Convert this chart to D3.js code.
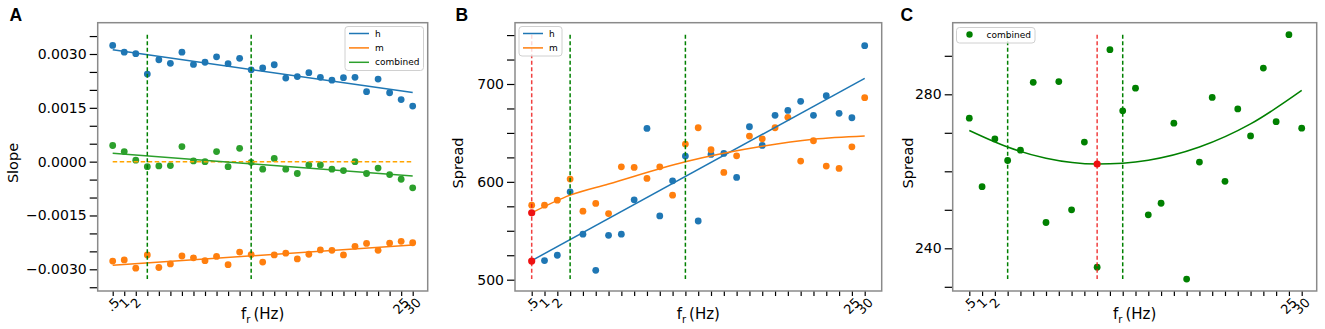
<!DOCTYPE html>
<html><head><meta charset="utf-8">
<script src="https://cdn.jsdelivr.net/npm/d3@7/dist/d3.min.js"></script>
<style>
html,body{margin:0;padding:0;background:#fff;}
svg{display:block;font-family:"DejaVu Sans",sans-serif;}
</style></head>
<body>
<svg id="chart" width="1325" height="329"></svg>
<script>
// ---------- data ----------
const xTickLabels = [".5","1","2","","","","","","","","","","","","","","","","","","","","","","","25","30"];
const xPositions = xTickLabels.map((d, i) => i);

// Panel A: slopes
const slopeH = [0.00324,0.00305,0.00301,0.00244,0.00284,0.00274,0.00305,0.00271,0.00277,0.00292,0.00273,0.00288,0.00256,0.00261,0.00270,0.00233,0.00237,0.00248,0.00235,0.00227,0.00234,0.00235,0.00195,0.00230,0.00192,0.00173,0.00155];
const slopeM = [-0.00277,-0.00274,-0.00297,-0.00260,-0.00295,-0.00285,-0.00263,-0.00268,-0.00276,-0.00264,-0.00287,-0.00252,-0.00259,-0.00280,-0.00260,-0.00255,-0.00271,-0.00258,-0.00246,-0.00247,-0.00260,-0.00236,-0.00228,-0.00247,-0.00227,-0.00222,-0.00226];
const slopeC = [0.00045,0.00028,0.00004,-0.00014,-0.00012,-0.00011,0.00042,0.00002,0.00000,0.00028,-0.00014,0.00037,-0.00002,-0.00021,0.00009,-0.00021,-0.00033,-0.00009,-0.00009,-0.00021,-0.00025,0.00000,-0.00033,-0.00018,-0.00036,-0.00049,-0.00073];
const slopeFitPos = [0, 26];
const slopeFitH = [0.003116, 0.001926];
const slopeFitM = [-0.002884, -0.002326];
const slopeFitC = [0.000233, -0.000400];
const slopeTicks = [-0.0035,-0.003,-0.0025,-0.002,-0.0015,-0.001,-0.0005,0,0.0005,0.001,0.0015,0.002,0.0025,0.003,0.0035];
const slopeTickLabels = [-0.003,-0.0015,0,0.0015,0.003];

// Panel B: spread h / m
const spreadH = [null,519.5,525,589.8,546.5,509.6,545.4,546.5,581.6,654.6,565.2,601,626.3,560,628,629,604.5,656.3,637.2,668,673,682.3,668,688,670,665.5,739.2];
const spreadM = [576.2,576.2,581.3,602.8,570,577.9,567.6,615.4,614.7,603.5,615.4,586.4,638.6,655.3,632.8,609.6,626.6,646.8,644,655.3,665.9,621.2,642,616.1,613.7,635.8,686];
const spreadFitHPos = [0, 26];
const spreadFitH = [519.5, 705.8];
const spreadFitMPos = [0, 3, 6, 12, 18, 22, 26];
const spreadFitM = [568.3, 586.4, 597.8, 620.5, 636.3, 643.5, 646.8];
const spreadRedPos = [0, 0];
const spreadRedVal = [519.0, 568.3];
const spreadTicks = [500,525,550,575,600,625,650,675,700,725,750];
const spreadTickLabels = [500,600,700];

// Panel C: spread combined
const spreadC = [273.8,256,268.4,262.8,265.5,283.1,246.7,283.3,250,267.6,235.1,291.6,275.7,281.6,248.7,251.7,272.5,232,262.4,279.2,257.4,276.2,269.2,286.8,272.9,295.5,271.2];
const spreadFitCPos = [0, 3, 6, 10, 14, 18, 22, 26];
const spreadFitC = [270.6, 266.3, 263.4, 261.9, 262.9, 266.3, 272.3, 281.0];
const spreadCRedPos = [10];
const spreadCRedVal = [261.9];
const spreadCTicks = [230,240,250,260,270,280,290];
const spreadCTickLabels = [240,280];

// ---------- drawing ----------
const svg = d3.select("#chart");
const BLUE = "#1f77b4", ORANGE = "#ff7f0e", GREEN = "#2ca02c", DKGREEN = "#008000", RED = "#ee1111";

function fmtSlope(v){ const s = Math.abs(v).toFixed(4); return (v < 0 ? "\u2212" : "") + s; }

function panel(cfg){
  const g = svg.append("g");
  const {L, R, T, B} = cfg.box;
  const x = d3.scalePoint().domain(xPositions).range([cfg.x0, cfg.x1]);
  const y = d3.scaleLinear().domain(cfg.yDomain).range(cfg.yRange);

  // axes ticks
  const ya = d3.axisLeft(y).tickValues(cfg.yTicks).tickSize(8).tickPadding(3)
    .tickFormat(v => cfg.yLabels.some(l => Math.abs(l - v) < 1e-9) ? cfg.fmt(v) : "");
  const yg = g.append("g").attr("transform", `translate(${L},0)`).call(ya);
  yg.select(".domain").remove();
  yg.selectAll("line").attr("stroke", "#000").attr("stroke-width", 1.2);
  yg.selectAll("text").attr("font-size", 14).attr("fill", "#000").attr("font-family", "DejaVu Sans");

  const xa = d3.axisBottom(x).tickSize(5).tickFormat("");
  const xg = g.append("g").attr("transform", `translate(0,${B})`).call(xa);
  xg.select(".domain").remove();
  xg.selectAll("line").attr("stroke", "#000").attr("stroke-width", 1.2);
  // rotated labels
  xPositions.forEach((p, i) => {
    const lab = xTickLabels[i]; if (!lab) return;
    const t = g.append("text").text(lab).attr("font-size", 13).attr("text-anchor", "middle")
      .attr("dominant-baseline", "central");
    const w = t.node().getComputedTextLength();
    const cx = x(p), cy = B + 6 + (w + 9) / (2 * Math.SQRT2);
    t.attr("x", cx).attr("y", cy).attr("transform", `rotate(-45,${cx},${cy})`);
  });

  // frame
  g.append("rect").attr("x", L).attr("y", T).attr("width", R - L).attr("height", B - T)
    .attr("fill", "none").attr("stroke", "#8a8a8a").attr("stroke-width", 1.5);

  const vy0 = T + (B - T) * 0.045, vy1 = T + (B - T) * 0.955;
  const line = d3.line().x(d => x(d[0])).y(d => y(d[1])).curve(d3.curveMonotoneX);

  // scatter
  cfg.series.forEach(s => {
    g.append("g").selectAll("circle").data(s.values.map((v, i) => [i, v]).filter(d => d[1] !== null))
      .join("circle").attr("cx", d => x(d[0])).attr("cy", d => y(d[1])).attr("r", 3.4).attr("fill", s.color);
  });
  // horizontal dashed
  (cfg.hlines || []).forEach(h => {
    g.append("line").attr("x1", x(h.from)).attr("x2", x(h.to)).attr("y1", y(h.v)).attr("y2", y(h.v))
      .attr("stroke", h.color).attr("stroke-width", 1.5).attr("stroke-dasharray", "4.5,2.5");
  });
  // fits
  cfg.fits.forEach(f => {
    g.append("path").datum(f.pos.map((p, i) => [p, f.vals[i]])).attr("d", line)
      .attr("fill", "none").attr("stroke", f.color).attr("stroke-width", 1.5);
  });
  // vertical dashed
  cfg.vlines.forEach(v => {
    g.append("line").attr("x1", x(v.p)).attr("x2", x(v.p)).attr("y1", vy0).attr("y2", vy1)
      .attr("stroke", v.color).attr("stroke-width", 1.5).attr("stroke-dasharray", "4,2.5").attr("opacity", v.op || 1);
  });
  // red markers
  (cfg.red || []).forEach(r => {
    g.append("circle").attr("cx", x(r[0])).attr("cy", y(r[1])).attr("r", 3.6).attr("fill", RED);
  });

  // legend
  const lg = cfg.legend;
  g.append("rect").attr("x", lg.x).attr("y", lg.y).attr("width", lg.w).attr("height", lg.h).attr("rx", 3)
    .attr("fill", "rgba(255,255,255,0.8)").attr("stroke", "#d0d0d0").attr("stroke-width", 1);
  lg.items.forEach((it, i) => {
    const yy = lg.y + 7 + i * 14.4;
    if (it.type === "dot") {
      g.append("circle").attr("cx", lg.x + 13).attr("cy", yy).attr("r", 3.2).attr("fill", it.color);
    } else {
      g.append("line").attr("x1", lg.x + 4).attr("x2", lg.x + 24).attr("y1", yy).attr("y2", yy)
        .attr("stroke", it.color).attr("stroke-width", 1.5);
    }
    g.append("text").attr("x", lg.x + lg.tx).attr("y", yy).attr("dominant-baseline", "central")
      .attr("font-size", 9).attr("fill", "#000").text(it.label);
  });

  // axis labels
  const cxm = (L + R) / 2;
  const xl = g.append("text").attr("x", cxm).attr("y", 319).attr("text-anchor", "middle").attr("font-size", 15);
  xl.append("tspan").text("f");
  xl.append("tspan").text("r").attr("font-size", 10).attr("dy", 4);
  xl.append("tspan").text("\u2009(Hz)").attr("dy", -4);
  g.append("text").attr("transform", `translate(${cfg.ylabX},163) rotate(-90)`).attr("text-anchor", "middle")
    .attr("dominant-baseline", "central").attr("font-size", 14.5).text(cfg.ylabel);
  g.append("text").attr("x", cfg.letterX).attr("y", 21).attr("font-family", "Liberation Sans, Arial, sans-serif")
    .attr("font-weight", "bold").attr("font-size", 17.5).text(cfg.letter);
}

panel({
  box: {L: 97.7, R: 427.7, T: 22.7, B: 291}, x0: 112.7, x1: 412.7,
  yDomain: [0.003, -0.003], yRange: [54, 269.3], yTicks: slopeTicks, yLabels: slopeTickLabels, fmt: fmtSlope,
  series: [{values: slopeH, color: BLUE}, {values: slopeM, color: ORANGE}, {values: slopeC, color: GREEN}],
  hlines: [{v: 0, from: 0, to: 26, color: "#ffa500"}],
  fits: [{pos: slopeFitPos, vals: slopeFitH, color: BLUE}, {pos: slopeFitPos, vals: slopeFitM, color: ORANGE}, {pos: slopeFitPos, vals: slopeFitC, color: GREEN}],
  vlines: [{p: 3, color: DKGREEN}, {p: 12, color: DKGREEN}],
  legend: {x: 345, y: 26.5, w: 78.5, h: 44, tx: 30, items: [{label: "h", color: BLUE}, {label: "m", color: ORANGE}, {label: "combined", color: GREEN}]},
  ylabel: "Slope", ylabX: 13, letter: "A", letterX: 9.5
});

panel({
  box: {L: 515, R: 881.7, T: 22.7, B: 291}, x0: 531.7, x1: 864.7,
  yDomain: [700, 500], yRange: [84, 279.7], yTicks: spreadTicks, yLabels: spreadTickLabels, fmt: d3.format("d"),
  series: [{values: spreadH, color: BLUE}, {values: spreadM, color: ORANGE}],
  fits: [{pos: spreadFitHPos, vals: spreadFitH, color: BLUE}, {pos: spreadFitMPos, vals: spreadFitM, color: ORANGE}],
  vlines: [{p: 0, color: RED, op: 0.8}, {p: 3, color: DKGREEN}, {p: 12, color: DKGREEN}],
  red: spreadRedPos.map((p, i) => [p, spreadRedVal[i]]),
  legend: {x: 519, y: 26.5, w: 43, h: 29.5, tx: 30, items: [{label: "h", color: BLUE}, {label: "m", color: ORANGE}]},
  ylabel: "Spread", ylabX: 458, letter: "B", letterX: 455.5
});

panel({
  box: {L: 952.7, R: 1316.7, T: 22.7, B: 291}, x0: 969.3, x1: 1301.7,
  yDomain: [280, 240], yRange: [94.3, 248.3], yTicks: spreadCTicks, yLabels: spreadCTickLabels, fmt: d3.format("d"),
  series: [{values: spreadC, color: DKGREEN}],
  fits: [{pos: spreadFitCPos, vals: spreadFitC, color: DKGREEN}],
  vlines: [{p: 3, color: DKGREEN}, {p: 10, color: RED, op: 0.8}, {p: 12, color: DKGREEN}],
  red: spreadCRedPos.map((p, i) => [p, spreadCRedVal[i]]),
  legend: {x: 956.5, y: 27.5, w: 78.5, h: 15.5, tx: 30, items: [{label: "combined", color: DKGREEN, type: "dot"}]},
  ylabel: "Spread", ylabX: 908, letter: "C", letterX: 900.5
});
</script>
</body></html>
